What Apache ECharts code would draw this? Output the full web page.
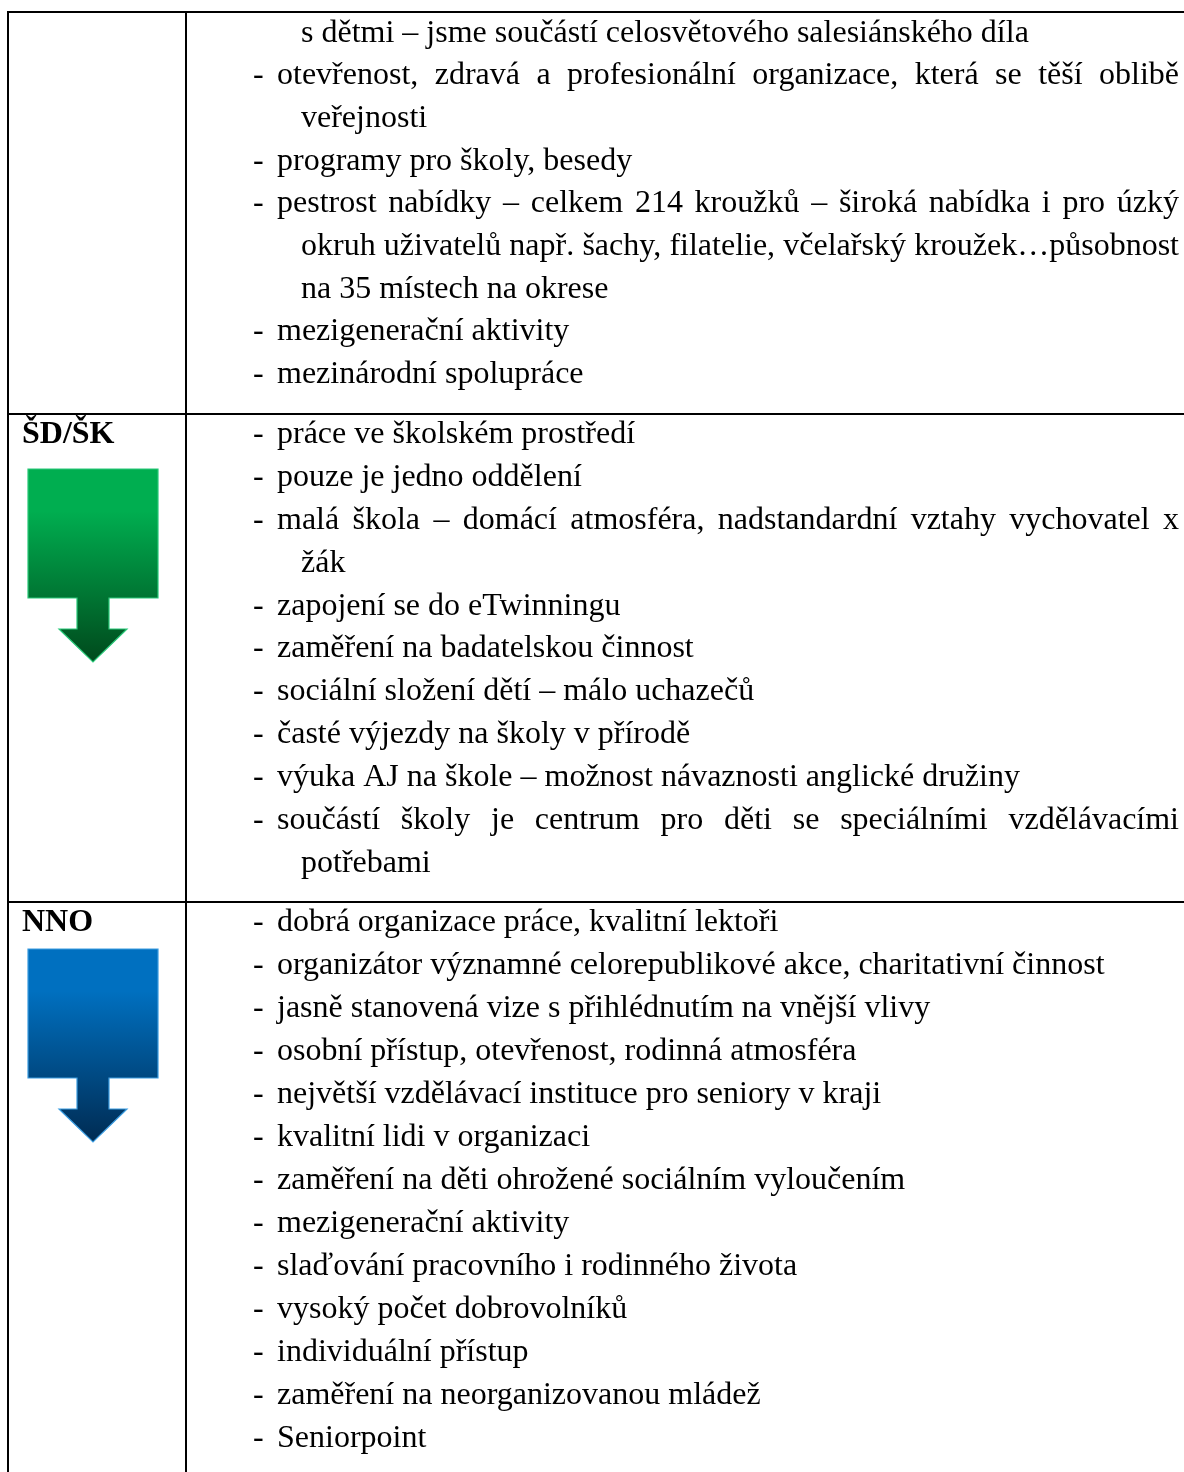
<!DOCTYPE html>
<html><head><meta charset="utf-8">
<style>html,body{margin:0;padding:0;background:#fff}#c{width:1184px;height:1472px}</style>
<script src="https://cdn.jsdelivr.net/npm/echarts@6/dist/echarts.min.js"></script>
</head><body><div id="c"></div>
<script>
// Table content: [text, isContinuationLine, isJustified]
const rowSalesian = [
  ["s dětmi – jsme součástí celosvětového salesiánského díla", 1, 0],
  ["otevřenost, zdravá a profesionální organizace, která se těší oblibě", 0, 1],
  ["veřejnosti", 1, 0],
  ["programy pro školy, besedy", 0, 0],
  ["pestrost nabídky – celkem 214 kroužků – široká nabídka i pro úzký", 0, 1],
  ["okruh uživatelů např. šachy, filatelie, včelařský kroužek…působnost", 1, 1],
  ["na 35 místech na okrese", 1, 0],
  ["mezigenerační aktivity", 0, 0],
  ["mezinárodní spolupráce", 0, 0]
];
const rowSchool = [
  ["práce ve školském prostředí", 0, 0],
  ["pouze je jedno oddělení", 0, 0],
  ["malá škola – domácí atmosféra, nadstandardní vztahy vychovatel x", 0, 1],
  ["žák", 1, 0],
  ["zapojení se do eTwinningu", 0, 0],
  ["zaměření na badatelskou činnost", 0, 0],
  ["sociální složení dětí – málo uchazečů", 0, 0],
  ["časté výjezdy na školy v přírodě", 0, 0],
  ["výuka AJ na škole – možnost návaznosti anglické družiny", 0, 0],
  ["součástí školy je centrum pro děti se speciálními vzdělávacími", 0, 1],
  ["potřebami", 1, 0]
];
const rowNno = [
  ["dobrá organizace práce, kvalitní lektoři", 0, 0],
  ["organizátor významné celorepublikové akce, charitativní činnost", 0, 0],
  ["jasně stanovená vize s přihlédnutím na vnější vlivy", 0, 0],
  ["osobní přístup, otevřenost, rodinná atmosféra", 0, 0],
  ["největší vzdělávací instituce pro seniory v kraji", 0, 0],
  ["kvalitní lidi v organizaci", 0, 0],
  ["zaměření na děti ohrožené sociálním vyloučením", 0, 0],
  ["mezigenerační aktivity", 0, 0],
  ["slaďování pracovního i rodinného života", 0, 0],
  ["vysoký počet dobrovolníků", 0, 0],
  ["individuální přístup", 0, 0],
  ["zaměření na neorganizovanou mládež", 0, 0],
  ["Seniorpoint", 0, 0]
];
const rowLabels = ["ŠD/ŠK", "NNO"];

const FONT = '"Liberation Serif"', SIZE = 32, RIGHT = 1179, MID = 8.6;
const mctx = document.createElement('canvas').getContext('2d');
mctx.font = SIZE + 'px ' + FONT;
const els = [];
function text(x, y, s, bold) {
  els.push({type:'text', x, y, silent:true, style:{text:s, x:0, y:0, fill:'#000', font:(bold?'bold ':'')+SIZE+'px '+FONT, textAlign:'left', textVerticalAlign:'middle'}});
}
function drawRow(lines, base, step) {
  lines.forEach((l, i) => {
    const y = base - MID + i * step, x = l[1] ? 301 : 277;
    if (!l[1]) text(253, y, '-');
    if (l[2]) {
      const words = l[0].split(' ');
      const total = words.reduce((a, w) => a + mctx.measureText(w).width, 0);
      const gap = (RIGHT - x - total) / (words.length - 1);
      let cx = x;
      words.forEach(w => { text(cx, y, w); cx += mctx.measureText(w).width + gap; });
    } else text(x, y, l[0]);
  });
}
function line(x1, y1, x2, y2) {
  els.push({type:'line', silent:true, shape:{x1,y1,x2,y2}, style:{stroke:'#000', lineWidth:2}});
}
function arrow(top, c1, c2, edge) {
  els.push({type:'polygon', silent:true, shape:{points:[[28,top],[158,top],[158,top+129],[109,top+129],[109,top+160],[127,top+160],[93,top+193],[59,top+160],[77,top+160],[77,top+129],[28,top+129]]},
    style:{stroke:edge, lineWidth:1.2, fill:{type:'linear',x:0,y:0,x2:0,y2:1,colorStops:[{offset:0,color:c1},{offset:0.22,color:c1},{offset:1,color:c2}]}}});
}
line(7, 12, 1184, 12);
line(7, 414, 1184, 414);
line(7, 902, 1184, 902);
line(8, 11, 8, 1472);
line(186, 11, 186, 1472);
drawRow(rowSalesian, 41.7, 42.7);
drawRow(rowSchool, 443.3, 42.85);
drawRow(rowNno, 931, 43);
text(22, 443.3 - MID, rowLabels[0], true);
text(22, 931 - MID, rowLabels[1], true);
arrow(469, '#00AE50', '#00491c', '#28c878');
arrow(949, '#0070C0', '#002b52', '#3a9ce0');
echarts.init(document.getElementById('c'), null, {renderer:'canvas'}).setOption({animation:false, backgroundColor:'#fff', graphic:{elements:els}});
</script></body></html>
